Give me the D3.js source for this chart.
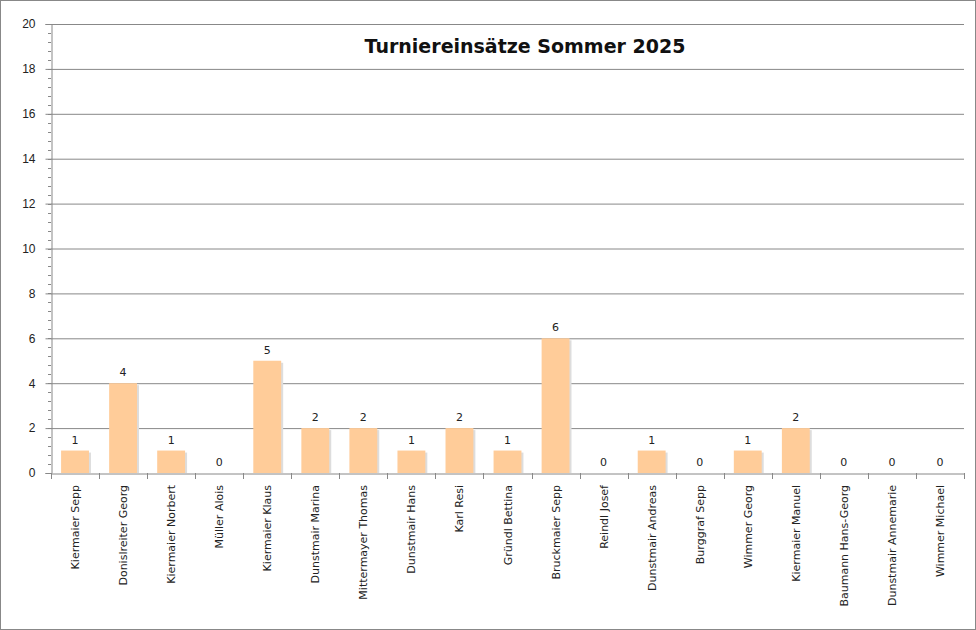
<!DOCTYPE html><html><head><meta charset="utf-8"><script src="https://cdn.jsdelivr.net/npm/d3@7"></script>
<style>body{margin:0;background:#fff}svg{font-family:"DejaVu Sans",sans-serif}</style></head><body>
<svg width="976" height="630"></svg>
<script>
const names=["Kiermaier Sepp","Donislreiter Georg","Kiermaier Norbert","Müller Alois","Kiermaier Klaus","Dunstmair Marina","Mittermayer Thomas","Dunstmair Hans","Karl Resi","Gründl Bettina","Bruckmaier Sepp","Reindl Josef","Dunstmair Andreas","Burggraf Sepp","Wimmer Georg","Kiermaier Manuel","Baumann Hans-Georg","Dunstmair Annemarie","Wimmer Michael"];
const values=[1,4,1,0,5,2,2,1,2,1,6,0,1,0,1,2,0,0,0];
const yTicks=[0,2,4,6,8,10,12,14,16,18,20];
const svg=d3.select("svg");
svg.append("rect").attr("x",0.5).attr("y",0.5).attr("width",975).attr("height",629).attr("fill","#fff").attr("stroke","#888");
const L=51,R=964,T=24,B=473;
const x=d3.scaleBand().domain(names).range([L,R]).paddingInner(0.42).paddingOuter(0.21);
const y=d3.scaleLinear().domain([0,20]).range([B,T]);
svg.append("g").selectAll("line").data(yTicks.slice(1)).join("line").attr("x1",L).attr("x2",R).attr("y1",d=>y(d)+.5).attr("y2",d=>y(d)+.5).attr("stroke","#888");
const minor=d3.range(0,20.01,0.4);
svg.append("g").selectAll("line").data(minor).join("line").attr("x1",L-3).attr("x2",L).attr("y1",d=>Math.round(y(d))+.5).attr("y2",d=>Math.round(y(d))+.5).attr("stroke","#888");
const ya=svg.append("g").attr("transform",`translate(${L+.5},0)`).call(d3.axisLeft(y).tickValues(yTicks).tickSize(6).tickPadding(10));
ya.selectAll("text").attr("font-size",12).attr("fill","#222");
ya.selectAll("line,path").attr("stroke","#888");
// shadows
svg.append("g").selectAll("rect").data(values).join("rect").attr("x",(d,i)=>x(names[i])+2).attr("y",d=>y(d)+2).attr("width",x.bandwidth()).attr("height",d=>B-y(d)-2).attr("fill","#ddd");
svg.append("g").selectAll("rect").data(values).join("rect").attr("x",(d,i)=>x(names[i])).attr("y",d=>y(d)).attr("width",x.bandwidth()).attr("height",d=>B-y(d)).attr("fill","#FFCC99");
const xa=svg.append("g").attr("transform",`translate(0,${B+.5})`).call(d3.axisBottom(x).tickSize(0).tickFormat(""));
xa.select("path").attr("stroke","#888");
const step=x.step();
svg.append("g").selectAll("line").data(d3.range(20)).join("line").attr("x1",d=>Math.round(L+d*step)+.5).attr("x2",d=>Math.round(L+d*step)+.5).attr("y1",B).attr("y2",B+6).attr("stroke","#888");
svg.append("g").selectAll("text").data(names).join("text").attr("transform",d=>`translate(${x(d)+x.bandwidth()/2+4},${B+12}) rotate(-90)`).attr("text-anchor","end").attr("font-size",11).attr("fill","#222").text(d=>d);
svg.append("g").selectAll("text").data(values).join("text").attr("x",(d,i)=>x(names[i])+x.bandwidth()/2).attr("y",d=>y(d)-7).attr("text-anchor","middle").attr("font-size",11).attr("fill","#222").text(d=>d);
svg.append("text").attr("x",525).attr("y",53).attr("text-anchor","middle").attr("font-size",19).attr("font-weight","bold").attr("fill","#111").text("Turniereinsätze Sommer 2025");
</script></body></html>
